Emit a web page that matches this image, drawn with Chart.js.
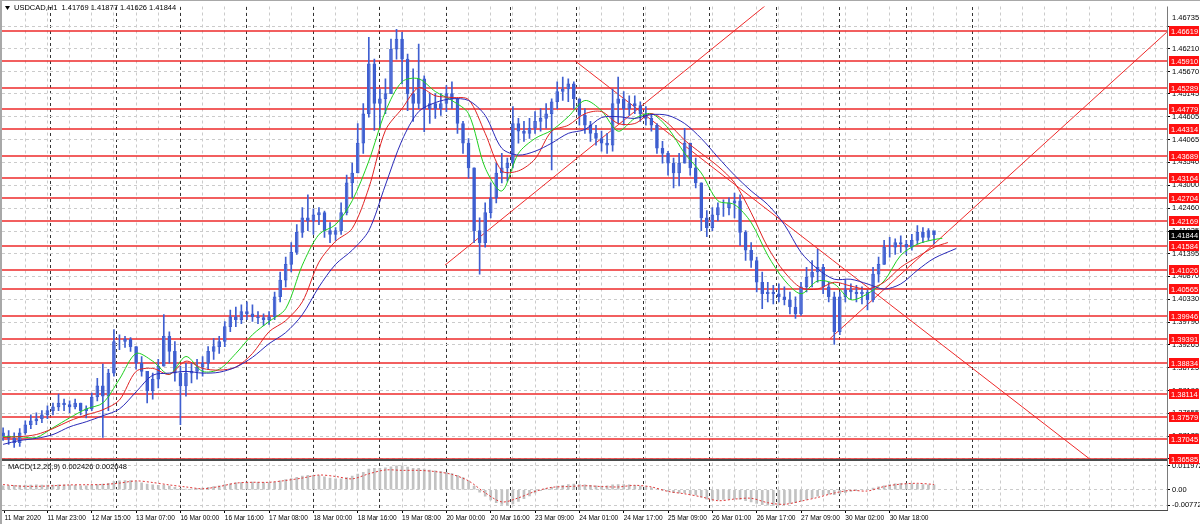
<!DOCTYPE html>
<html>
<head>
<meta charset="utf-8">
<script src="https://cdn.jsdelivr.net/npm/chart.js@4/dist/chart.umd.min.js"></script>
<style>
html, body { margin: 0; padding: 0; background: #fff; }
</style>
</head>
<body>
<canvas id="grafico" width="1200" height="524"></canvas>
<script>
// bar index 0 = 11 Mar 23:00 (H1), candles every 2 bars
var firstBar = -16;
var candleStep = 2;
var openFirst = 1.3720;
var highs = [
  1.3732, 1.3725, 1.3720, 1.3730, 1.3748, 1.3762, 1.3767, 1.3772, 1.3783, 1.3790,
  1.3811, 1.3799, 1.3795, 1.3799, 1.3790, 1.3783, 1.3813, 1.3848, 1.3881, 1.3869,
  1.3962, 1.3950, 1.3946, 1.3943, 1.3922, 1.3899, 1.3864, 1.3860, 1.3892, 1.3997,
  1.3957, 1.3934, 1.3876, 1.3883, 1.3883, 1.3892, 1.3899, 1.3922, 1.3941, 1.3946,
  1.3981, 1.4008, 1.4015, 1.4020, 1.4027, 1.4020, 1.4004, 1.3999, 1.4004, 1.4050,
  1.4097, 1.4132, 1.4166, 1.4208, 1.4248, 1.4278, 1.4245, 1.4248, 1.4240, 1.4213,
  1.4201, 1.4259, 1.4324, 1.4352, 1.4445, 1.4492, 1.4647, 1.4596, 1.4526, 1.4550,
  1.4643, 1.4666, 1.4659, 1.4608, 1.4573, 1.4631, 1.4557, 1.4515, 1.4515, 1.4515,
  1.4534, 1.4543, 1.4503, 1.4450, 1.4410, 1.4341, 1.4224, 1.4259, 1.4306, 1.4352,
  1.4375, 1.4364, 1.4485, 1.4457, 1.4450, 1.4457, 1.4473, 1.4480, 1.4492, 1.4503,
  1.4543, 1.4554, 1.4550, 1.4543, 1.4503, 1.4480, 1.4450, 1.4441, 1.4427, 1.4422,
  1.4526, 1.4554, 1.4520, 1.4510, 1.4510, 1.4496, 1.4485, 1.4468, 1.4445, 1.4403,
  1.4380, 1.4364, 1.4375, 1.4434, 1.4399, 1.4364, 1.4306, 1.4241, 1.4248, 1.4259,
  1.4266, 1.4271, 1.4282, 1.4278, 1.4194, 1.4166, 1.4132, 1.4097, 1.4073, 1.4066,
  1.4069, 1.4062, 1.4050, 1.4039, 1.4073, 1.4108, 1.4124, 1.4150, 1.4115, 1.4073,
  1.4050, 1.4050, 1.4078, 1.4069, 1.4066, 1.4062, 1.4055, 1.4108, 1.4132, 1.4171,
  1.4178, 1.4175, 1.4182, 1.4171, 1.4185, 1.4206, 1.4201, 1.4199, 1.41877
];
var lows = [
  1.3702, 1.3693, 1.3686, 1.3688, 1.3716, 1.3730, 1.3739, 1.3744, 1.3753, 1.3762,
  1.3772, 1.3772, 1.3767, 1.3776, 1.3762, 1.3755, 1.3772, 1.3795, 1.3709, 1.3772,
  1.3853, 1.3915, 1.3920, 1.3911, 1.3869, 1.3853, 1.3790, 1.3799, 1.3825, 1.3876,
  1.3883, 1.3841, 1.3739, 1.3806, 1.3837, 1.3846, 1.3853, 1.3869, 1.3892, 1.3906,
  1.3922, 1.3957, 1.3969, 1.3976, 1.3985, 1.3981, 1.3976, 1.3971, 1.3974, 1.3985,
  1.4027, 1.4062, 1.4097, 1.4138, 1.4178, 1.4194, 1.4185, 1.4208, 1.4178, 1.4166,
  1.4171, 1.4185, 1.4231, 1.4271, 1.4329, 1.4375, 1.4460, 1.4429, 1.4434, 1.4468,
  1.4515, 1.4596, 1.4538, 1.4475, 1.4450, 1.4480, 1.4426, 1.4445, 1.4457, 1.4464,
  1.4473, 1.4480, 1.4422, 1.4375, 1.4317, 1.4166, 1.4092, 1.4155, 1.4224, 1.4259,
  1.4306, 1.4310, 1.4341, 1.4399, 1.4403, 1.4410, 1.4422, 1.4427, 1.4434, 1.4336,
  1.4480, 1.4499, 1.4496, 1.4480, 1.4441, 1.4422, 1.4403, 1.4394, 1.4380, 1.4375,
  1.4380, 1.4445, 1.4441, 1.4464, 1.4468, 1.4450, 1.4441, 1.4427, 1.4375, 1.4352,
  1.4324, 1.4294, 1.4299, 1.4352, 1.4324, 1.4294, 1.4194, 1.4180, 1.4194, 1.4217,
  1.4227, 1.4231, 1.4224, 1.4159, 1.4124, 1.4108, 1.4050, 1.4011, 1.4027, 1.4022,
  1.4027, 1.4020, 1.3999, 1.3988, 1.3995, 1.4050, 1.4062, 1.4073, 1.4046, 1.4027,
  1.3927, 1.3950, 1.4027, 1.4032, 1.4027, 1.4022, 1.4008, 1.4027, 1.4073, 1.4115,
  1.4132, 1.4138, 1.4143, 1.4138, 1.4148, 1.4162, 1.4166, 1.4171, 1.41626
];
var closes = [
  1.3713, 1.3707, 1.3697, 1.3720, 1.3739, 1.3748, 1.3753, 1.3762, 1.3772, 1.3781,
  1.3790, 1.3786, 1.3781, 1.3790, 1.3772, 1.3776, 1.3804, 1.3830, 1.3806, 1.3860,
  1.3934, 1.3934, 1.3939, 1.3922, 1.3883, 1.3864, 1.3818, 1.3846, 1.3876, 1.3946,
  1.3911, 1.3860, 1.3830, 1.3860, 1.3864, 1.3874, 1.3883, 1.3911, 1.3922, 1.3934,
  1.3969, 1.3992, 1.3985, 1.4004, 1.3999, 1.3992, 1.3990, 1.3985, 1.3992, 1.4039,
  1.4078, 1.4115, 1.4143, 1.4190, 1.4224, 1.4217, 1.4231, 1.4236, 1.4194, 1.4185,
  1.4194, 1.4236, 1.4306, 1.4329, 1.4399, 1.4468, 1.4585, 1.4492, 1.4503, 1.4515,
  1.4619, 1.4643, 1.4596, 1.4515, 1.4492, 1.4550, 1.4480, 1.4492, 1.4480, 1.4492,
  1.4515, 1.4503, 1.4445, 1.4399, 1.4341, 1.4194, 1.4166, 1.4236, 1.4271, 1.4329,
  1.4341, 1.4352, 1.4445, 1.4427, 1.4422, 1.4434, 1.4450, 1.4457, 1.4468, 1.4496,
  1.4520, 1.4526, 1.4538, 1.4503, 1.4464, 1.4441, 1.4422, 1.4410, 1.4399, 1.4394,
  1.4492, 1.4503, 1.4480, 1.4492, 1.4487, 1.4468, 1.4457, 1.4441, 1.4387, 1.4375,
  1.4352, 1.4329, 1.4352, 1.4399, 1.4341, 1.4306, 1.4224, 1.4201, 1.4231, 1.4248,
  1.4248, 1.4259, 1.4264, 1.4190, 1.4148, 1.4124, 1.4073, 1.4046, 1.4050, 1.4046,
  1.4039, 1.4032, 1.4015, 1.3999, 1.4062, 1.4085, 1.4097, 1.4108, 1.4062, 1.4039,
  1.3957, 1.4039, 1.4055, 1.4050, 1.4046, 1.4050, 1.4032, 1.4092, 1.4115, 1.4155,
  1.4155, 1.4166, 1.4162, 1.4155, 1.4171, 1.4190, 1.4178, 1.4194, 1.41844
];

// Alligator lines, one value every 6 bars, plus the shifted end point
var maFirstBar = -16;
var maStep = 6;
var lips = [
  1.3711, 1.3711, 1.3709, 1.3732, 1.3755, 1.3776, 1.3790, 1.3846, 1.3906, 1.3888,
  1.3857, 1.3899, 1.3864, 1.3869, 1.3906, 1.3950, 1.3981, 1.4011, 1.4113, 1.4185,
  1.4208, 1.4264, 1.4357, 1.4473, 1.4543, 1.4550, 1.4520, 1.4499, 1.4468, 1.4341,
  1.4287, 1.4375, 1.4410, 1.4429, 1.4461, 1.4499, 1.4475, 1.4427, 1.4457, 1.4468,
  1.4434, 1.4375, 1.4329, 1.4264, 1.4255, 1.4213, 1.4136, 1.4078, 1.4046, 1.4076,
  1.4069, 1.4032, 1.4046, 1.4076, 1.4136, 1.4162, 1.4173
];
var teeth = [
  1.3709, 1.3711, 1.3716, 1.3730, 1.3748, 1.3762, 1.3774, 1.3797, 1.3864, 1.3871,
  1.3857, 1.3888, 1.3871, 1.3867, 1.3874, 1.3906, 1.3957, 1.3983, 1.4027, 1.4120,
  1.4169, 1.4199, 1.4294, 1.4429, 1.4480, 1.4529, 1.4510, 1.4506, 1.4501, 1.4422,
  1.4334, 1.4334, 1.4362, 1.4427, 1.4441, 1.4468, 1.4473, 1.4445, 1.4445, 1.4468,
  1.4445, 1.4406, 1.4375, 1.4345, 1.4306, 1.4236, 1.4155, 1.4097, 1.4060, 1.4057,
  1.4073, 1.4064, 1.4057, 1.4073, 1.4108, 1.4132, 1.4155
];
var jaw = [
  1.3693, 1.3702, 1.3707, 1.3716, 1.3734, 1.3746, 1.3760, 1.3776, 1.3816, 1.3855,
  1.3860, 1.3864, 1.3860, 1.3862, 1.3874, 1.3897, 1.3929, 1.3955, 1.3997, 1.4062,
  1.4115, 1.4148, 1.4194, 1.4301, 1.4406, 1.4473, 1.4494, 1.4503, 1.4499, 1.4464,
  1.4387, 1.4371, 1.4380, 1.4399, 1.4422, 1.4431, 1.4459, 1.4461, 1.4457, 1.4466,
  1.4464, 1.4445, 1.4410, 1.4366, 1.4324, 1.4287, 1.4255, 1.4208, 1.4143, 1.4104,
  1.4080, 1.4080, 1.4069, 1.4057, 1.4069, 1.4101, 1.4129
];
var lipsEnd = [323, 1.4176];
var teethEnd = [325, 1.4166];
var jawEnd = [328, 1.4152];

// MACD(12,26,9): main per candle, signal every 6 bars
var macdMain = [
  0.0020, 0.0021, 0.0022, 0.0022, 0.0023, 0.0023, 0.0024, 0.0023, 0.0023, 0.0023,
  0.0024, 0.0024, 0.0023, 0.0022, 0.0020, 0.0020, 0.0022, 0.0026, 0.0028, 0.0032,
  0.0040, 0.0044, 0.0046, 0.0045, 0.0040, 0.0034, 0.0028, 0.0024, 0.0022, 0.0022,
  0.0018, 0.0012, 0.0006, 0.0004, 0.0004, 0.0006, 0.0008, 0.0012, 0.0016, 0.0020,
  0.0026, 0.0030, 0.0034, 0.0036, 0.0038, 0.0038, 0.0037, 0.0036, 0.0036, 0.0038,
  0.0044, 0.0050, 0.0056, 0.0062, 0.0068, 0.0072, 0.0072, 0.0070, 0.0064, 0.0058,
  0.0054, 0.0054, 0.0060, 0.0068, 0.0078, 0.0086, 0.0102, 0.0106, 0.0106, 0.0108,
  0.0114, 0.0119, 0.0118, 0.0112, 0.0106, 0.0106, 0.0102, 0.0098, 0.0094, 0.0090,
  0.0086, 0.0080, 0.0072, 0.0060, 0.0044, 0.0018, -0.0012, -0.0032, -0.0050, -0.0064,
  -0.0072, -0.0076, -0.0070, -0.0058, -0.0044, -0.0030, -0.0016, -0.0004, 0.0006, 0.0012,
  0.0018, 0.0022, 0.0026, 0.0028, 0.0026, 0.0024, 0.0022, 0.0020, 0.0018, 0.0020,
  0.0024, 0.0026, 0.0026, 0.0024, 0.0022, 0.0018, 0.0014, 0.0010, 0.0004, -0.0002,
  -0.0008, -0.0014, -0.0016, -0.0016, -0.0020, -0.0026, -0.0036, -0.0046, -0.0050, -0.0050,
  -0.0048, -0.0046, -0.0044, -0.0048, -0.0054, -0.0060, -0.0068, -0.0074, -0.0076, -0.0077,
  -0.0076, -0.0072, -0.0068, -0.0064, -0.0056, -0.0048, -0.0040, -0.0032, -0.0026, -0.0022,
  -0.0024, -0.0020, -0.0014, -0.0008, -0.0004, 0.0000, 0.0002, 0.0008, 0.0014, 0.0020,
  0.0026, 0.0030, 0.0032, 0.0032, 0.0030, 0.0028, 0.0026, 0.0025, 0.002426
];
var macdSignal = [
  0.0026, 0.0018, 0.0017, 0.0020, 0.0024, 0.0025, 0.0026, 0.0033, 0.0044, 0.0036,
  0.0024, 0.0014, 0.0005, 0.0016, 0.0033, 0.0037, 0.0037, 0.0046, 0.0058, 0.0073,
  0.0066, 0.0054, 0.0079, 0.0098, 0.0096, 0.0096, 0.0090, 0.0076, 0.0044, -0.0015,
  -0.0060, -0.0040, -0.0008, 0.0012, 0.0016, 0.0020, 0.0016, 0.0014, 0.0022, 0.0014,
  -0.0008, -0.0020, -0.0035, -0.0054, -0.0046, -0.0042, -0.0064, -0.0072, -0.0056, -0.0038,
  -0.0016, -0.0003, -0.0006, 0.0016, 0.0028, 0.0032, 0.002648
];

// horizontal levels and trend lines (bar, price, bar, price)
var levels = [1.46619, 1.45910, 1.45289, 1.44779, 1.44314, 1.43689, 1.43164, 1.42704, 1.42169,
  1.41584, 1.41026, 1.40565, 1.39946, 1.39391, 1.38834, 1.38114, 1.37579, 1.37045, 1.36585];
var trendLines = [
  [143.5, 1.4113, 264.0, 1.4747],
  [190.4, 1.4592, 376.4, 1.36576],
  [282.5, 1.3941, 404.0, 1.4659]
];
var lastPrice = 1.41844;
var titleText = 'USDCAD,H1  1.41769 1.41877 1.41626 1.41844';
var macdTitle = 'MACD(12,26,9) 0.002426 0.002648';

// axes
var priceTicks = [1.46735, 1.46210, 1.45670, 1.45145, 1.44605, 1.44065, 1.43540, 1.43000, 1.42460,
  1.41925, 1.41395, 1.40870, 1.40330, 1.39790, 1.39265, 1.38725, 1.38190, 1.37655, 1.37125, 1.36590];
var macdTicks = [0.011972, 0, -0.007723];
var firstLabel = '11 Mar 2020';
var firstLabelBar = -15.5;
var timeLabels = ['11 Mar 23:00', '12 Mar 15:00', '13 Mar 07:00', '16 Mar 00:00', '16 Mar 16:00',
  '17 Mar 08:00', '18 Mar 00:00', '18 Mar 16:00', '19 Mar 08:00', '20 Mar 00:00', '20 Mar 16:00',
  '23 Mar 09:00', '24 Mar 01:00', '24 Mar 17:00', '25 Mar 09:00', '26 Mar 01:00', '26 Mar 17:00',
  '27 Mar 09:00', '30 Mar 02:00', '30 Mar 18:00'];
var timeLabelBars = [0, 16, 32, 48, 64, 80, 96, 112, 128, 144, 160, 176, 192, 208, 224, 240, 256, 272, 288, 304];
var separatorBars = [1, 25, 48, 72, 96, 120, 144, 167, 191, 215, 239, 263, 286, 310, 334];

var xMin = -16.4, xMax = 404.1;
var yMin = 1.36576, yMax = 1.47193;
var macdMin = -0.0100, macdMax = 0.0150;

var FONT = "'Liberation Sans', Arial, sans-serif";
var GRID = '#cbcbcb';
var LEVEL_RED = '#ee2a2a';

function serie(first, step, arr, end) {
  var d = arr.map(function(v, i) { return {x: first + i * step, y: v}; });
  if (end) d.push({x: end[0], y: end[1]});
  return d;
}

var candleX = closes.map(function(c, i) { return firstBar + i * candleStep; });
var opens = closes.map(function(c, i) { return i === 0 ? openFirst : closes[i - 1]; });

var datasets = [];

trendLines.forEach(function(t) {
  datasets.push({type: 'line', data: [{x: t[0], y: t[1]}, {x: t[2], y: t[3]}], borderColor: LEVEL_RED,
    borderWidth: 1, order: 5, xAxisID: 'x', yAxisID: 'y'});
});

datasets.push({type: 'bar', grouped: false, barThickness: 2, order: 4, xAxisID: 'x', yAxisID: 'macd',
  backgroundColor: '#c2c2c2', borderWidth: 0,
  data: macdMain.map(function(v, i) { return {x: candleX[i], y: v}; })});
datasets.push({type: 'line', order: 3, xAxisID: 'x', yAxisID: 'macd', borderColor: '#e03a3a',
  borderWidth: 1, borderDash: [2, 2], tension: 0.3, data: serie(maFirstBar, maStep, macdSignal)});

datasets.push({type: 'bar', grouped: false, barThickness: 1, order: 2, xAxisID: 'x', yAxisID: 'y',
  backgroundColor: '#3f5fd0', borderWidth: 0,
  data: highs.map(function(h, i) { return {x: candleX[i], y: [lows[i], h]}; })});
datasets.push({type: 'bar', grouped: false, barThickness: 3, order: 2, xAxisID: 'x', yAxisID: 'y',
  borderColor: '#3f5fd0', borderWidth: 1, borderSkipped: false,
  backgroundColor: closes.map(function(c, i) { return c >= opens[i] ? '#b7c6f3' : '#3153c8'; }),
  data: closes.map(function(c, i) { return {x: candleX[i], y: [opens[i], c]}; })});

datasets.push({type: 'line', order: 1, xAxisID: 'x', yAxisID: 'y', borderColor: '#2a2ab8', borderWidth: 1,
  tension: 0.3, data: serie(maFirstBar, maStep, jaw, jawEnd)});
datasets.push({type: 'line', order: 1, xAxisID: 'x', yAxisID: 'y', borderColor: '#e02424', borderWidth: 1,
  tension: 0.3, data: serie(maFirstBar, maStep, teeth, teethEnd)});
datasets.push({type: 'line', order: 1, xAxisID: 'x', yAxisID: 'y', borderColor: '#1fd01f', borderWidth: 1,
  tension: 0.3, data: serie(maFirstBar, maStep, lips, lipsEnd)});

var mt4Decor = {
  id: 'mt4Decor',
  beforeDraw: function(chart) {
    var c = chart.ctx;
    c.save();
    c.fillStyle = '#fff';
    c.fillRect(0, 0, chart.width, chart.height);
    c.restore();
  },
  beforeDatasetsDraw: function(chart) {
    // horizontal line objects, two soft pixel rows like the screenshot
    var c = chart.ctx, a = chart.chartArea, ys = chart.scales.y;
    c.save();
    c.strokeStyle = LEVEL_RED;
    c.lineWidth = 1.3;
    levels.forEach(function(p) {
      var py = Math.round(ys.getPixelForValue(p));
      c.beginPath();
      c.moveTo(a.left, py);
      c.lineTo(a.right, py);
      c.stroke();
    });
    c.restore();
  },
  afterDraw: function(chart) {
    var c = chart.ctx, a = chart.chartArea, ys = chart.scales.y, ms = chart.scales.macd;
    c.save();
    // frame
    c.fillStyle = '#a8a8a8';
    c.fillRect(0, 0, 2, chart.height);
    c.fillRect(0, 0, chart.width, 1);
    c.fillStyle = '#7a7a7a';
    c.fillRect(Math.round(a.right), a.top, 1, a.bottom - a.top);
    c.fillStyle = '#4a4a4a';
    c.fillRect(a.left, Math.round(ys.bottom), a.right - a.left, 2);
    c.fillRect(a.left, Math.round(a.bottom), a.right - a.left + 1, 1);

    // price tags
    c.font = '7.5px ' + FONT;
    c.textBaseline = 'middle';
    c.textAlign = 'left';
    levels.forEach(function(p) {
      var py = Math.round(ys.getPixelForValue(p));
      c.fillStyle = '#ff1010';
      c.fillRect(a.right + 2, py - 5, 30, 10);
      c.fillStyle = '#fff';
      c.fillText(p.toFixed(5), a.right + 4, py + 0.5);
    });
    var lp = Math.round(ys.getPixelForValue(lastPrice));
    c.fillStyle = '#000';
    c.fillRect(a.right + 2, lp - 5, 30, 10);
    c.fillStyle = '#fff';
    c.fillText(lastPrice.toFixed(5), a.right + 4, lp + 0.5);

    // top price label sits at the very top in MT4
    c.fillStyle = '#000';
    c.fillText(priceTicks[0].toFixed(5), a.right + 5, a.top + 11);

    // titles
    c.fillText(titleText, 14, 8);
    c.fillText(macdTitle, 8, ms.top + 7);
    c.beginPath();
    c.moveTo(5, 6); c.lineTo(10, 6); c.lineTo(7.5, 10); c.closePath();
    c.fill();
    c.restore();
  }
};

var grafico = new Chart(document.getElementById('grafico'), {
  type: 'bar',
  data: {datasets: datasets},
  options: {
    responsive: false,
    animation: false,
    events: [],
    devicePixelRatio: 1,
    layout: {padding: {left: 2, top: 2, right: 0, bottom: 0}},
    elements: {point: {radius: 0, hoverRadius: 0}, line: {borderWidth: 1}},
    plugins: {legend: {display: false}, tooltip: {enabled: false}},
    scales: {
      x: {
        type: 'linear', position: 'bottom', min: xMin, max: xMax, offset: false,
        afterBuildTicks: function(s) {
          var t = [{value: firstLabelBar}];
          for (var b = -8; b <= 400; b += 8) t.push({value: b});
          s.ticks = t;
        },
        afterFit: function(s) { s.height = 14; },
        ticks: {
          autoSkip: false, maxRotation: 0, align: 'start', padding: 1, color: '#000',
          font: {family: FONT, size: 6.6},
          callback: function(v) {
            if (v === firstLabelBar) return firstLabel;
            var i = timeLabelBars.indexOf(v);
            return i >= 0 ? timeLabels[i] : '';
          }
        },
        grid: {
          offset: false, tickLength: 3,
          color: function(ctx) { return ctx.tick && ctx.tick.value === firstLabelBar ? 'rgba(0,0,0,0)' : GRID; },
          tickColor: function(ctx) {
            return ctx.tick && (timeLabelBars.indexOf(ctx.tick.value) >= 0 || ctx.tick.value === firstLabelBar) ? '#000' : 'rgba(0,0,0,0)';
          }
        },
        border: {display: false, dash: [3, 3]}
      },
      sep: {
        type: 'linear', axis: 'x', position: 'top', min: xMin, max: xMax, offset: false,
        afterBuildTicks: function(s) { s.ticks = separatorBars.map(function(v) { return {value: v}; }); },
        afterFit: function(s) { s.height = 0; },
        ticks: {display: false, autoSkip: false},
        grid: {offset: false, drawTicks: false, color: '#333333'},
        border: {display: false, dash: [3, 3]}
      },
      y: {
        type: 'linear', position: 'right', stack: 'pane', stackWeight: 457, min: yMin, max: yMax,
        afterBuildTicks: function(s) { s.ticks = priceTicks.map(function(v) { return {value: v}; }); },
        afterFit: function(s) { s.width = 33; },
        ticks: {
          autoSkip: false, padding: 2, color: '#000', font: {family: FONT, size: 7.5},
          callback: function(v) { return v === priceTicks[0] ? '' : v.toFixed(5); }
        },
        grid: {color: GRID, tickColor: '#000', tickLength: 3},
        border: {display: false, dash: [3, 3]}
      },
      macd: {
        type: 'linear', position: 'right', stack: 'pane', stackWeight: 51, min: macdMin, max: macdMax,
        afterBuildTicks: function(s) { s.ticks = macdTicks.map(function(v) { return {value: v}; }); },
        afterFit: function(s) { s.width = 33; },
        ticks: {
          autoSkip: false, padding: 2, color: '#000', font: {family: FONT, size: 7.5},
          callback: function(v) { return v === 0 ? '0.00' : v.toFixed(6); }
        },
        grid: {color: GRID, tickColor: '#000', tickLength: 3},
        border: {display: false, dash: [3, 3]}
      }
    }
  },
  plugins: [mt4Decor]
});
</script>
</body>
</html>
